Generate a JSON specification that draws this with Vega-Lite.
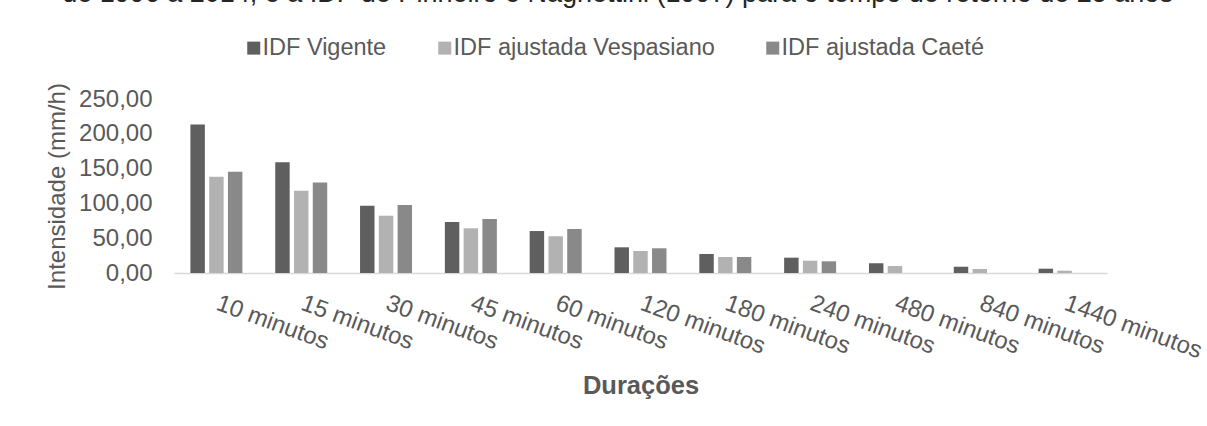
{
  "$schema": "https://vega.github.io/schema/vega-lite/v6.json",
  "autosize": "none",
  "width": 933,
  "height": 174,
  "padding": {"left": 174, "top": 99, "right": 100, "bottom": 153},
  "background": "white",
  "title": {
    "text": "de 1996 a 2014, e a IDF de Pinheiro e Naghettini (1997) para o tempo de retorno de 25 anos",
    "font": "Liberation Sans",
    "fontSize": 27,
    "fontWeight": "normal",
    "color": "#262626",
    "anchor": "middle",
    "dx": -23,
    "dy": -28,
    "offset": 0
  },
  "data": {
    "values": [
      {"dur": "10 minutos", "serie": "IDF Vigente", "v": 213.5},
      {"dur": "10 minutos", "serie": "IDF ajustada Vespasiano", "v": 138.4},
      {"dur": "10 minutos", "serie": "IDF ajustada Caeté", "v": 145.5},
      {"dur": "15 minutos", "serie": "IDF Vigente", "v": 159.0},
      {"dur": "15 minutos", "serie": "IDF ajustada Vespasiano", "v": 118.3},
      {"dur": "15 minutos", "serie": "IDF ajustada Caeté", "v": 130.0},
      {"dur": "30 minutos", "serie": "IDF Vigente", "v": 96.7},
      {"dur": "30 minutos", "serie": "IDF ajustada Vespasiano", "v": 82.3},
      {"dur": "30 minutos", "serie": "IDF ajustada Caeté", "v": 97.7},
      {"dur": "45 minutos", "serie": "IDF Vigente", "v": 73.3},
      {"dur": "45 minutos", "serie": "IDF ajustada Vespasiano", "v": 64.2},
      {"dur": "45 minutos", "serie": "IDF ajustada Caeté", "v": 77.6},
      {"dur": "60 minutos", "serie": "IDF Vigente", "v": 60.3},
      {"dur": "60 minutos", "serie": "IDF ajustada Vespasiano", "v": 52.7},
      {"dur": "60 minutos", "serie": "IDF ajustada Caeté", "v": 63.2},
      {"dur": "120 minutos", "serie": "IDF Vigente", "v": 36.9},
      {"dur": "120 minutos", "serie": "IDF ajustada Vespasiano", "v": 31.6},
      {"dur": "120 minutos", "serie": "IDF ajustada Caeté", "v": 35.5},
      {"dur": "180 minutos", "serie": "IDF Vigente", "v": 27.3},
      {"dur": "180 minutos", "serie": "IDF ajustada Vespasiano", "v": 23.0},
      {"dur": "180 minutos", "serie": "IDF ajustada Caeté", "v": 23.0},
      {"dur": "240 minutos", "serie": "IDF Vigente", "v": 22.0},
      {"dur": "240 minutos", "serie": "IDF ajustada Vespasiano", "v": 17.7},
      {"dur": "240 minutos", "serie": "IDF ajustada Caeté", "v": 16.8},
      {"dur": "480 minutos", "serie": "IDF Vigente", "v": 14.0},
      {"dur": "480 minutos", "serie": "IDF ajustada Vespasiano", "v": 10.0},
      {"dur": "840 minutos", "serie": "IDF Vigente", "v": 9.0},
      {"dur": "840 minutos", "serie": "IDF ajustada Vespasiano", "v": 5.7},
      {"dur": "1440 minutos", "serie": "IDF Vigente", "v": 6.2},
      {"dur": "1440 minutos", "serie": "IDF ajustada Vespasiano", "v": 3.3}
    ]
  },
  "mark": {"type": "bar"},
  "encoding": {
    "x": {
      "field": "dur",
      "type": "nominal",
      "sort": ["10 minutos", "15 minutos", "30 minutos", "45 minutos", "60 minutos", "120 minutos", "180 minutos", "240 minutos", "480 minutos", "840 minutos", "1440 minutos"],
      "scale": {"paddingInner": 0.387, "paddingOuter": 0.1935},
      "axis": {
        "title": "Durações",
        "titleFont": "Liberation Sans",
        "titleFontSize": 25.5,
        "titleFontWeight": "bold",
        "titleColor": "#595959",
        "titlePadding": 11,
        "labelFont": "Liberation Sans",
        "labelFontSize": 24,
        "labelColor": "#595959",
        "labelAngle": 20,
        "labelAlign": "left",
        "labelBaseline": "top",
        "labelPadding": 18,
        "labelOffset": 5,
        "labelOverlap": false,
        "labelLimit": 0,
        "ticks": false,
        "domainColor": "#d9d9d9",
        "domainWidth": 1.5
      }
    },
    "xOffset": {
      "field": "serie",
      "type": "nominal",
      "sort": ["IDF Vigente", "IDF ajustada Vespasiano", "IDF ajustada Caeté"],
      "scale": {"paddingInner": 0.23, "paddingOuter": 0}
    },
    "y": {
      "field": "v",
      "type": "quantitative",
      "scale": {"domain": [0, 250], "nice": false},
      "axis": {
        "title": "Intensidade (mm/h)",
        "titleFont": "Liberation Sans",
        "titleFontSize": 24,
        "titleFontWeight": "normal",
        "titleColor": "#595959",
        "titlePadding": 9,
        "values": [0, 50, 100, 150, 200, 250],
        "labelExpr": "replace(format(datum.value, '.2f'), '.', ',')",
        "labelFont": "Liberation Sans",
        "labelFontSize": 24,
        "labelColor": "#595959",
        "labelPadding": 22,
        "ticks": false,
        "domain": false,
        "grid": false
      }
    },
    "color": {
      "field": "serie",
      "type": "nominal",
      "sort": ["IDF Vigente", "IDF ajustada Vespasiano", "IDF ajustada Caeté"],
      "scale": {
        "domain": ["IDF Vigente", "IDF ajustada Vespasiano", "IDF ajustada Caeté"],
        "range": ["#5f5f5f", "#b2b2b2", "#898989"]
      },
      "legend": {
        "title": null,
        "orient": "none",
        "legendX": 68,
        "legendY": -63,
        "direction": "horizontal",
        "symbolType": "square",
        "symbolSize": 169,
        "symbolStrokeWidth": 0,
        "labelOffset": -3,
        "labelFont": "Liberation Sans",
        "labelFontSize": 23.5,
        "labelColor": "#595959",
        "labelLimit": 0,
        "columnPadding": 46
      }
    }
  },
  "config": {
    "view": {"stroke": null}
  }
}
